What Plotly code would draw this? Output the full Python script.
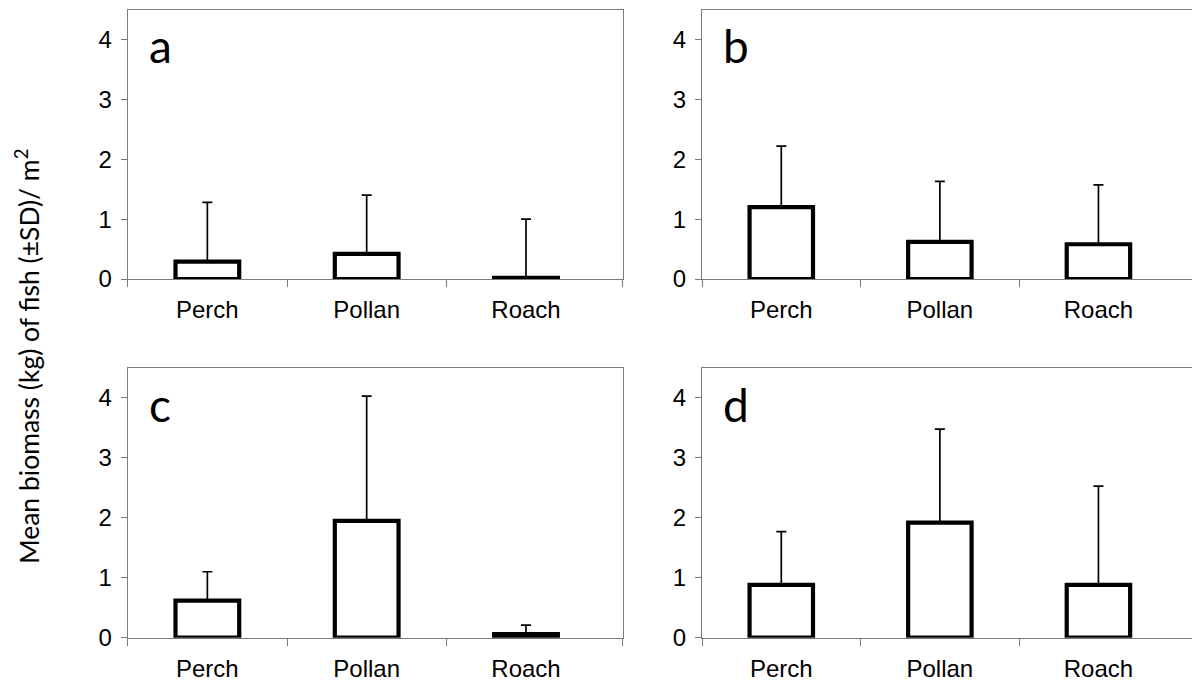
import plotly.graph_objects as go

categories = ["Perch", "Pollan", "Roach"]
panel_letters = ["a", "b", "c", "d"]
mean_a = [0.29, 0.42, 0.02]
sd_a = [0.99, 0.98, 0.98]
mean_b = [1.20, 0.62, 0.58]
sd_b = [1.02, 1.01, 0.99]
mean_c = [0.62, 1.95, 0.06]
sd_c = [0.48, 2.08, 0.15]
mean_d = [0.88, 1.92, 0.88]
sd_d = [0.89, 1.56, 1.65]
y_ticks = [0, 1, 2, 3, 4]

means = [mean_a, mean_b, mean_c, mean_d]
sds = [sd_a, sd_b, sd_c, sd_d]

W, H = 1192, 683
AX = "#7a7a7a"
TICKFONT = dict(family="Liberation Sans, Arial", size=24, color="#000000")

# pixel layout
x_doms = [(127.7 / W, 622.7 / W), (702.0 / W, 1.0)]
x_ranges = [(-0.5, 2.607), (-0.5, 2.59)]
y_doms = [((H - 279.0) / H, (H - 9.5) / H), ((H - 637.7) / H, (H - 368.0) / H)]

fig = go.Figure()
xpos = list(range(len(categories)))

for i in range(4):
    row, col = divmod(i, 2)
    n = "" if i == 0 else str(i + 1)
    fig.add_trace(go.Bar(
        x=xpos, y=means[i], width=0.4,
        xaxis="x" + n, yaxis="y" + n,
        marker=dict(color="white", line=dict(color="black", width=4.2)),
        error_y=dict(type="data", array=sds[i], arrayminus=[0] * 3, symmetric=False,
                     color="black", thickness=1.7, width=5),
        cliponaxis=False, showlegend=False, hoverinfo="skip",
    ))
    xr = x_ranges[col]
    fig.update_layout(**{
        "xaxis" + n: dict(
            domain=x_doms[col], anchor="y" + n, range=list(xr),
            tickmode="array", tickvals=xpos, ticktext=categories, ticks="",
            tickfont=TICKFONT, showline=True, linecolor=AX, linewidth=1.2,
            mirror=True, showgrid=False, zeroline=False, ticklabelstandoff=9,
            automargin=False,
            minor=dict(tickmode="array", tickvals=[-0.5, 0.5, 1.5, xr[1]],
                       ticks="outside", ticklen=7, tickcolor=AX, tickwidth=1.2,
                       showgrid=False),
            fixedrange=True,
        ),
        "yaxis" + n: dict(
            domain=y_doms[row], anchor="x" + n, range=[0, 4.5],
            tickmode="array", tickvals=y_ticks, ticks="outside", ticklen=6,
            tickcolor=AX, tickwidth=1.2, tickfont=TICKFONT,
            showline=True, linecolor=AX, linewidth=1.2, mirror=True,
            showgrid=False, zeroline=False, ticklabelstandoff=4,
            automargin=False, fixedrange=True,
        ),
    })
    fig.add_annotation(
        text=panel_letters[i], xref="x" + n + " domain", yref="y" + n + " domain",
        x=0.038, y=0.975, xanchor="left", yanchor="top", showarrow=False,
        font=dict(family="Lato", size=46, color="#000000"),
    )

fig.add_annotation(
    text="Mean biomass (kg) of fish (±SD)/ m<sup>2</sup>",
    xref="paper", yref="paper", x=27 / W, y=(H - 357) / H,
    xanchor="center", yanchor="middle", textangle=-90, showarrow=False,
    font=dict(family="Lato", size=26.5, color="#000000"),
)

fig.update_layout(
    width=W, height=H, margin=dict(l=0, r=0, t=0, b=0, autoexpand=False),
    paper_bgcolor="white", plot_bgcolor="white", bargap=0.6,
)

fig.write_html("out.html", config={"displayModeBar": False})
